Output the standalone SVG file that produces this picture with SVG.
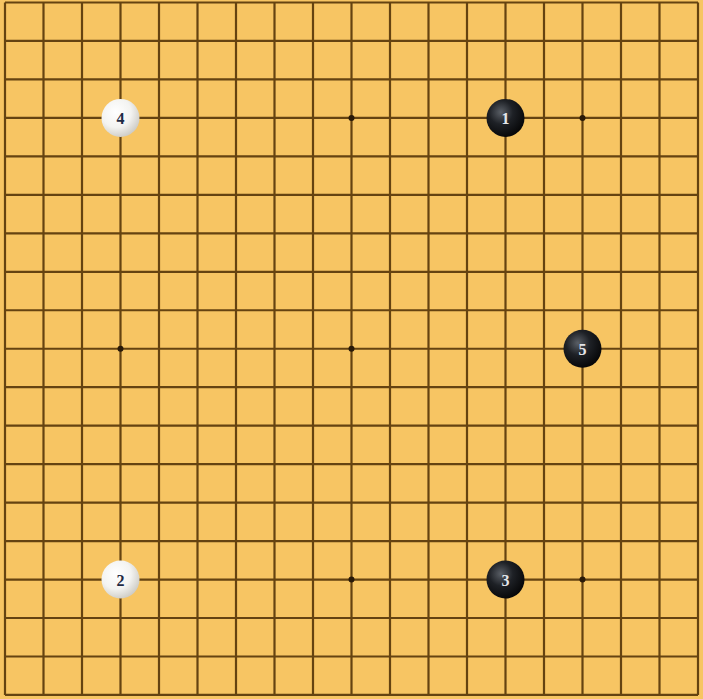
<svg xmlns="http://www.w3.org/2000/svg" width="703" height="699" viewBox="0 0 703 699">
  <defs>
    <radialGradient id="gBlack" cx="0.38" cy="0.35" r="0.7">
      <stop offset="0" stop-color="#5a5f66"/>
      <stop offset="0.45" stop-color="#1e2126"/>
      <stop offset="1" stop-color="#050506"/>
    </radialGradient>
    <radialGradient id="gWhite" cx="0.38" cy="0.35" r="0.72">
      <stop offset="0" stop-color="#ffffff"/>
      <stop offset="0.55" stop-color="#f3f3f1"/>
      <stop offset="1" stop-color="#c9c7c0"/>
    </radialGradient>
    <style>
      .grid { stroke: #654311; stroke-width: 2.2; fill: none; }
      .star { fill: #2a1a08; }
      .black { fill: url(#gBlack); }
      .white { fill: url(#gWhite); }
      .num { font-family: "Liberation Serif", "DejaVu Serif", serif; font-weight: bold; font-size: 16px; text-anchor: middle; dominant-baseline: central; }
      .nb { fill: #e4e6ea; }
      .nw { fill: #1f2a44; }
    </style>
  </defs>
  <rect x="0" y="0" width="703" height="699" fill="#f7c563"/>
  <g id="grid">
    <path class="grid" d="M5 2.5V694.96 M43.5 2.5V694.96 M82 2.5V694.96 M120.5 2.5V694.96 M159 2.5V694.96 M197.5 2.5V694.96 M236 2.5V694.96 M274.5 2.5V694.96 M313 2.5V694.96 M351.5 2.5V694.96 M390 2.5V694.96 M428.5 2.5V694.96 M467 2.5V694.96 M505.5 2.5V694.96 M544 2.5V694.96 M582.5 2.5V694.96 M621 2.5V694.96 M659.5 2.5V694.96 M698 2.5V694.96"/>
    <path class="grid" d="M5 2.5H698 M5 40.97H698 M5 79.44H698 M5 117.91H698 M5 156.38H698 M5 194.85H698 M5 233.32H698 M5 271.79H698 M5 310.26H698 M5 348.73H698 M5 387.2H698 M5 425.67H698 M5 464.14H698 M5 502.61H698 M5 541.08H698 M5 579.55H698 M5 618.02H698 M5 656.49H698 M5 694.96H698"/>
  </g>
  <g id="stars">
    <circle class="star" cx="120.5" cy="117.91" r="3"/>
    <circle class="star" cx="351.5" cy="117.91" r="3"/>
    <circle class="star" cx="582.5" cy="117.91" r="3"/>
    <circle class="star" cx="120.5" cy="348.73" r="3"/>
    <circle class="star" cx="351.5" cy="348.73" r="3"/>
    <circle class="star" cx="582.5" cy="348.73" r="3"/>
    <circle class="star" cx="120.5" cy="579.55" r="3"/>
    <circle class="star" cx="351.5" cy="579.55" r="3"/>
    <circle class="star" cx="582.5" cy="579.55" r="3"/>
  </g>
  <g id="stone1">
    <circle class="black" cx="505.5" cy="117.91" r="19"/>
    <text class="num nb" x="505.5" y="118.9">1</text>
  </g>
  <g id="stone2">
    <circle class="white" cx="120.5" cy="579.55" r="19"/>
    <text class="num nw" x="120.5" y="580.5">2</text>
  </g>
  <g id="stone3">
    <circle class="black" cx="505.5" cy="579.55" r="19"/>
    <text class="num nb" x="505.5" y="580.5">3</text>
  </g>
  <g id="stone4">
    <circle class="white" cx="120.5" cy="117.91" r="19"/>
    <text class="num nw" x="120.5" y="118.9">4</text>
  </g>
  <g id="stone5">
    <circle class="black" cx="582.5" cy="348.73" r="19"/>
    <text class="num nb" x="582.5" y="349.7">5</text>
  </g>
</svg>
